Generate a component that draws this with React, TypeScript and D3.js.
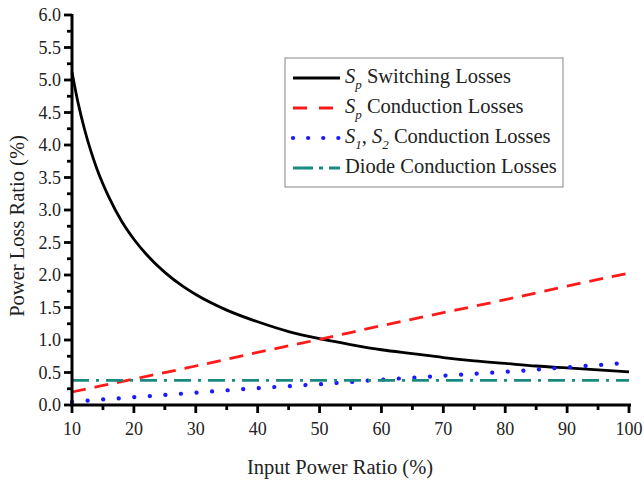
import React from "react";
import * as d3 from "d3";

const xTicks = [10, 20, 30, 40, 50, 60, 70, 80, 90, 100];
const yTicks = [0, 0.5, 1, 1.5, 2, 2.5, 3, 3.5, 4, 4.5, 5, 5.5, 6];

const switchX = [10, 11, 12, 13, 14, 15, 16, 18, 20, 22, 25, 28, 30, 35, 40, 45, 50, 55, 60, 65, 70, 75, 80, 85, 90, 95, 100];
const switchY = [5.12, 4.64, 4.25, 3.92, 3.64, 3.4, 3.19, 2.83, 2.55, 2.32, 2.04, 1.82, 1.7, 1.46, 1.28, 1.13, 1.02, 0.93, 0.85, 0.79, 0.73, 0.68, 0.64, 0.6, 0.57, 0.54, 0.51];

const condX = [10, 20, 30, 40, 50, 60, 70, 80, 90, 100];
const spCond = [0.2, 0.4, 0.6, 0.81, 1.01, 1.22, 1.42, 1.62, 1.83, 2.03];
const s12Cond = [0.05, 0.12, 0.19, 0.26, 0.32, 0.39, 0.45, 0.51, 0.58, 0.65];
const diodeCond = [0.38, 0.38, 0.38, 0.38, 0.38, 0.38, 0.38, 0.38, 0.38, 0.38];

const W = 644, H = 481;
const m = { left: 72, right: 629, top: 15, bottom: 405 };

export default function App() {
  const x = d3.scaleLinear().domain([10, 100]).range([m.left, m.right]);
  const y = d3.scaleLinear().domain([0, 6]).range([m.bottom, m.top]);
  const line = d3.line<[number, number]>().x(d => x(d[0])).y(d => y(d[1])).curve(d3.curveMonotoneX);
  const zip = (xs: number[], ys: number[]) => xs.map((v, i) => [v, ys[i]] as [number, number]);
  const font = "'Liberation Serif', 'Times New Roman', serif";
  const minorX = d3.range(15, 100, 10);
  const minorY = d3.range(0.25, 6, 0.5);
  const series = [
    { d: zip(switchX, switchY), color: "#000000", dash: "none", cap: "butt", w: 2.8 },
    { d: zip(condX, spCond), color: "#ff1a1a", dash: "14,9", cap: "butt", w: 2.8 },
    { d: zip(condX, s12Cond), color: "#1a1aff", dash: "0.1,15.5", cap: "round", w: 4.2 },
    { d: zip(condX, diodeCond), color: "#1a8a80", dash: "17,7,3,7", cap: "butt", w: 2.8 },
  ];
  const legendDash = ["none", "14,12", "0.1,15", "20,6,4,6"];
  const legendY = [78, 108, 138, 168];
  const tc = "#222";
  return (
    <svg width={W} height={H} style={{ display: "block", position: "absolute", left: 0, top: 0 }} fontFamily={font}>
      <rect width={W} height={H} fill="#fff" />
      {series.map((s, i) => (
        <path key={i} d={line(s.d) || ""} fill="none" stroke={s.color} strokeWidth={s.w}
          strokeDasharray={s.dash} strokeLinecap={s.cap as any} />
      ))}
      {/* axes */}
      <line x1={m.left} x2={m.left} y1={m.top - 1} y2={m.bottom} stroke="#000" strokeWidth={3} />
      <line x1={m.left - 1.5} x2={m.right + 2} y1={m.bottom} y2={m.bottom} stroke="#000" strokeWidth={3} />
      {yTicks.map(t => (
        <g key={t}>
          <line x1={m.left - 8} x2={m.left} y1={y(t)} y2={y(t)} stroke="#000" strokeWidth={2.8} />
          <text x={m.left - 11} y={y(t)} dy="0.35em" textAnchor="end" fontSize={18} fill={tc}>{t.toFixed(1)}</text>
        </g>
      ))}
      {minorY.map(t => (
        <line key={t} x1={m.left - 5} x2={m.left} y1={y(t)} y2={y(t)} stroke="#000" strokeWidth={2.8} />
      ))}
      {xTicks.map(t => (
        <g key={t}>
          <line x1={x(t)} x2={x(t)} y1={m.bottom} y2={m.bottom + 8} stroke="#000" strokeWidth={2.8} />
          <text x={x(t)} y={m.bottom + 30} textAnchor="middle" fontSize={18} fill={tc}>{t}</text>
        </g>
      ))}
      {minorX.map(t => (
        <line key={t} x1={x(t)} x2={x(t)} y1={m.bottom} y2={m.bottom + 5} stroke="#000" strokeWidth={2.8} />
      ))}
      <text x={340} y={474} textAnchor="middle" fontSize={20.5} fill={tc}>Input Power Ratio (%)</text>
      <text transform={`translate(24,226) rotate(-90)`} textAnchor="middle" fontSize={20.5} fill={tc}>Power Loss Ratio (%)</text>
      {/* legend */}
      <rect x={285} y={58} width={278} height={129} fill="#fff" stroke="#999" strokeWidth={1.2} />
      {series.map((s, i) => (
        <line key={i} x1={293} x2={340} y1={legendY[i]} y2={legendY[i]} stroke={s.color} strokeWidth={s.w}
          strokeDasharray={legendDash[i]} strokeLinecap={s.cap as any} />
      ))}
      <text x={345} y={legendY[0] + 5} fontSize={20.5} fill={tc}>
        <tspan fontStyle="italic">S</tspan><tspan fontStyle="italic" fontSize={13} dy={6}>p</tspan><tspan dy={-6}> Switching Losses</tspan>
      </text>
      <text x={345} y={legendY[1] + 5} fontSize={20.5} fill={tc}>
        <tspan fontStyle="italic">S</tspan><tspan fontStyle="italic" fontSize={13} dy={6}>p</tspan><tspan dy={-6}> Conduction Losses</tspan>
      </text>
      <text x={345} y={legendY[2] + 5} fontSize={20.5} fill={tc}>
        <tspan fontStyle="italic">S</tspan><tspan fontStyle="italic" fontSize={13} dy={6}>1</tspan><tspan dy={-6}>, </tspan><tspan fontStyle="italic">S</tspan><tspan fontStyle="italic" fontSize={13} dy={6}>2</tspan><tspan dy={-6}> Conduction Losses</tspan>
      </text>
      <text x={345} y={legendY[3] + 5} fontSize={20.5} fill={tc}>Diode Conduction Losses</text>
    </svg>
  );
}
